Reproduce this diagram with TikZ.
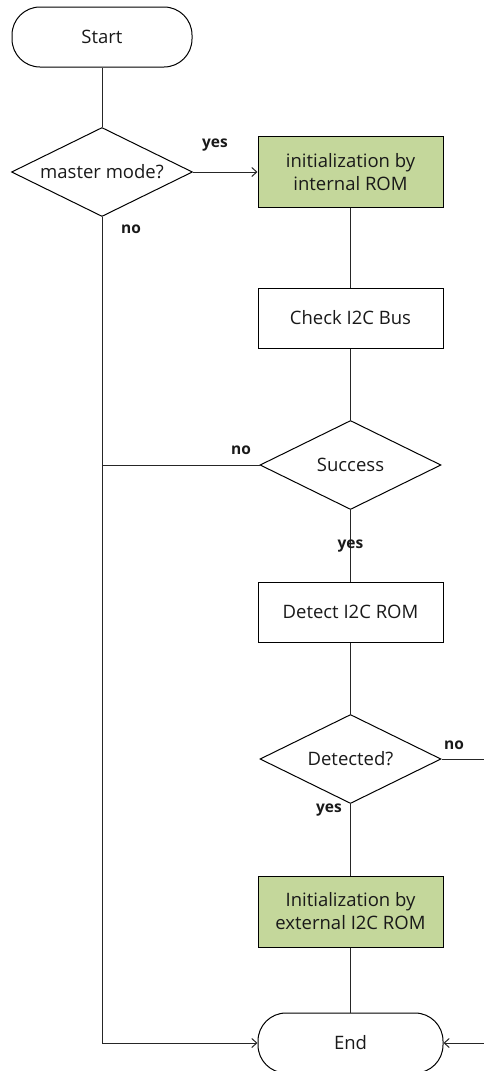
\documentclass[tikz,border=0pt]{standalone}
\usepackage{fontspec}
\setmainfont{Open Sans}
\usetikzlibrary{shapes.geometric,arrows.meta}
\definecolor{initgreen}{RGB}{196,215,155}
\begin{document}
\begin{tikzpicture}[x=1pt,y=-1pt,
  every node/.style={font=\fontsize{18.5}{23}\selectfont, text=black!90},
  term/.style={draw, rounded corners=28pt, minimum height=60pt, inner sep=0pt, line width=1pt},
  proc/.style={draw, rectangle, minimum width=185pt, inner sep=0pt, align=center, line width=1pt},
  dec/.style={draw, diamond, aspect=2, minimum width=181pt, minimum height=89pt, inner sep=0pt, line width=1pt},
  lbl/.style={font=\fontsize{15.5}{18}\selectfont\bfseries},
  conn/.style={line width=1pt, draw=black!85},
  arr/.style={conn, -{Straight Barb[length=5pt,width=9pt]}}
]
\useasboundingbox (0,0) rectangle (483,1071);
\node[term, minimum width=180pt] (start) at (102,37) {Start};
\node[dec] (master) at (102,172) {master mode?};
\node[proc, fill=initgreen, minimum height=71pt] (introm) at (350.5,172) {initialization by\\internal ROM};
\node[proc, minimum height=60pt] (check) at (350.5,318) {Check I2C Bus};
\node[dec] (succ) at (350.5,465) {Success};
\node[proc, minimum height=60pt] (detect) at (350.5,612) {Detect I2C ROM};
\node[dec] (det) at (350.5,759) {Detected?};
\node[proc, fill=initgreen, minimum height=71pt] (extrom) at (350.5,911.5) {Initialization by\\external I2C ROM};
\node[term, minimum width=185pt] (end) at (350.5,1043) {End};

\draw[conn] (start) -- (master);
\draw[arr] (master.east) -- (introm.west);
\draw[conn] (introm) -- (check);
\draw[conn] (check) -- (succ);
\draw[conn] (succ) -- (detect);
\draw[conn] (detect) -- (det);
\draw[conn] (det) -- (extrom);
\draw[conn] (extrom) -- (end);
\draw[arr] (master.south) |- (end.west);
\draw[conn] (succ.west) -- (succ.west -| master.south);
\coordinate (rt) at (488,759);
\draw[conn] (det.east) -- (rt);
\draw[arr] (rt) |- (end.east);

\node[lbl] (ly1) at (215,145) {yes};
\node[lbl] (ln1) at (131,229) {no};
\node[lbl] (ln2) at (241,450) {no};
\node[lbl] (ly2) at (350.5,546) {yes};
\node[lbl] (ln3) at (454,745) {no};
\node[lbl] (ly3) at (329,810) {yes};
\end{tikzpicture}
\end{document}
